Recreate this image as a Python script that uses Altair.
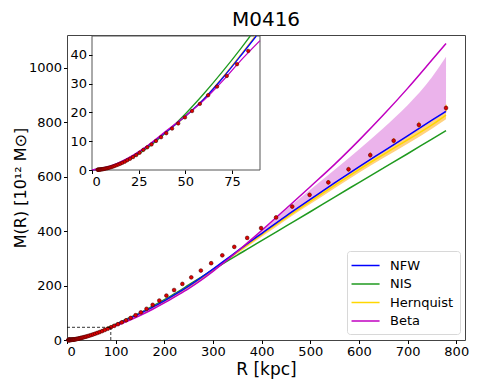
import altair as alt
import pandas as pd

# ---------------- data ----------------
R_pts = [3.0, 3.2, 3.4, 3.7, 4.0, 4.3, 4.6, 5.0, 5.4, 5.8, 6.2, 6.7, 7.2, 7.8, 8.4, 9.0, 9.7, 10.5, 11.3, 12.1,
         13.1, 14.1, 15.2, 16.3, 17.6, 18.9, 20.4, 22.0, 23.7, 25.5, 27.5, 29.6, 31.9, 34.3, 37.0, 39.8, 42.9, 46.2,
         49.8, 53.6, 57.8, 62.2, 67.0, 72.2, 77.7, 83.7, 90.2, 97.1, 104.6, 112.7, 121.4, 130.8, 140.9, 151.8,
         163.5, 176.1, 189.7, 204.3, 220.1, 237.1, 255.4, 275.1, 296.3, 319.2, 343.8, 370.3, 398.9, 429.7, 462.9,
         498.6, 537.1, 578.6, 623.3, 671.4, 723.2, 779.0]
M_pts = [0.09, 0.1, 0.11, 0.13, 0.15, 0.17, 0.2, 0.23, 0.27, 0.31, 0.36, 0.42, 0.49, 0.57, 0.66, 0.77, 0.9, 1.05,
         1.22, 1.42, 1.65, 1.9, 2.2, 2.5, 2.9, 3.4, 3.9, 4.5, 5.2, 6.0, 7.0, 7.9, 8.9, 10.1, 11.4, 12.8, 14.4, 16.2,
         18.3, 20.5, 23.0, 26.0, 29.0, 32.7, 36.8, 41.4, 46.5, 52, 58, 65, 72.5, 81, 91, 101.5, 114.5, 129, 145,
         163, 183.5, 206, 230, 255, 282, 311, 342, 375, 411, 450, 490, 533, 579, 627, 679, 732, 790, 852]
# error bars of the outer points (last 16 points)
err_outer = [4, 4, 5, 5, 6, 6, 7, 7, 8, 8, 9, 9, 10, 10, 11, 12]

R_mod = [0, 10, 20, 30, 40, 50, 60, 70, 80, 90, 100, 125, 150, 175, 200, 225, 250, 275, 300, 325, 350, 375, 400,
         450, 500, 550, 600, 650, 700, 750, 779]
M_nfw = [0, 1.3, 4.2, 8.4, 13.4, 18.7, 24.7, 32.0, 40.0, 48.2, 56.5, 76.5, 98, 120, 144, 170, 198, 228, 260, 293,
         326, 359, 391, 455, 516, 577, 636, 693, 750, 807, 840]
M_nis = [0, 0.9, 3.6, 7.8, 13.2, 19.5, 26.6, 34.3, 42.5, 50.5, 58.5, 79, 99, 123, 148, 174, 202, 230, 258, 285,
         312, 338, 365, 418, 471, 525, 578, 631, 684, 738, 769]
M_her = [0, 1.3, 4.2, 8.3, 13.3, 18.6, 24.8, 32.2, 40.3, 48.6, 56.5, 76.5, 97.5, 119.5, 143, 169, 197, 226, 258,
         291, 323, 355, 387, 449, 509, 568, 626, 681, 735, 790, 826]
M_beta = [0, 1.4, 4.4, 8.6, 13.7, 18.8, 24.3, 31.0, 38.3, 45.0, 52, 70, 90, 112, 136, 162, 189, 219, 252, 288,
          325, 363, 402, 482, 563, 645, 733, 826, 924, 1028, 1089]
beta_lo = [0, 1.3, 4.1, 8.2, 13.2, 18.5, 24.2, 30.8, 38, 44.8, 51.5, 69.5, 89.5, 111, 135, 161, 188, 218, 251, 286,
           320, 353, 386, 450, 513, 574, 633, 690, 746, 803, 836]
beta_hi = [0, 1.5, 4.5, 8.8, 13.9, 19.1, 25.0, 32.3, 40.5, 48.5, 56.5, 77, 98.5, 121, 145, 171, 199, 229, 262, 295,
           328, 362, 400, 478, 552, 625, 700, 778, 862, 965, 1040]
her_lo = [0, 1.2, 4.0, 8.0, 13.0, 18.2, 24.3, 31.5, 39.5, 47.6, 55.3, 75, 95.5, 117, 140, 165.5, 193, 222, 253,
          285, 317, 348, 379, 441, 499, 557, 614, 668, 721, 776, 811]
her_hi = [0, 1.4, 4.4, 8.6, 13.6, 19.0, 25.3, 32.9, 41.1, 49.6, 57.7, 78, 99.5, 122, 146, 172.5, 201, 230, 262,
          296, 329, 361, 394, 457, 518, 578, 637, 693, 748, 804, 840]

# inset curves (each ends where it leaves the inset frame)
nfw_in_R = [0, 10, 20, 30, 40, 50, 60, 70, 80, 88.0]
nfw_in_M = [0, 1.3, 4.2, 8.4, 13.4, 18.7, 24.7, 32.0, 40.0, 46.6]
nis_in_R = [0, 10, 20, 30, 40, 50, 60, 70, 80, 84.8]
nis_in_M = [0, 0.9, 3.6, 7.8, 13.2, 19.5, 26.6, 34.3, 42.5, 46.6]
her_in_R = [0, 10, 20, 30, 40, 50, 60, 70, 80, 87.5]
her_in_M = [0, 1.3, 4.2, 8.3, 13.3, 18.6, 24.8, 32.2, 40.3, 46.6]
beta_in_R = [0, 10, 20, 30, 40, 50, 60, 70, 80, 90]
beta_in_M = [0, 1.4, 4.4, 8.6, 13.7, 18.8, 24.3, 31.0, 38.3, 45.0]

models = ["NFW", "NIS", "Hernquist", "Beta"]
colors = ["#0000ff", "#1f9a1f", "#ffd700", "#c000c0"]
inset_x = [0, 90]
inset_y = [0, 46.6]

# ---------------- tables ----------------
pts = pd.DataFrame({"R": R_pts, "M": M_pts})
errs = pts.tail(len(err_outer)).copy()
errs["lo"] = errs["M"] - err_outer
errs["hi"] = errs["M"] + err_outer

order_draw = [("NIS", M_nis), ("Hernquist", M_her), ("NFW", M_nfw), ("Beta", M_beta)]
lines = pd.concat([pd.DataFrame({"R": R_mod, "M": v, "model": m, "k": i}) for i, (m, v) in enumerate(order_draw)])
bands = pd.DataFrame({"R": R_mod, "blo": beta_lo, "bhi": beta_hi, "hlo": her_lo, "hhi": her_hi})

in_draw = [("NIS", nis_in_R, nis_in_M), ("Hernquist", her_in_R, her_in_M), ("NFW", nfw_in_R, nfw_in_M),
           ("Beta", beta_in_R, beta_in_M)]
in_lines = pd.concat([pd.DataFrame({"R": r, "M": v, "model": m, "k": i}) for i, (m, r, v) in enumerate(in_draw)])
in_pts = pts[(pts.R <= inset_x[1]) & (pts.M <= inset_y[1])]

box = pd.DataFrame({"x0": [inset_x[0]], "x1": [inset_x[1]], "y0": [inset_y[0]], "y1": [inset_y[1]]})
dash = pd.DataFrame({"x0": [0, inset_x[1]], "x1": [inset_x[1], inset_x[1]],
                     "y0": [inset_y[1], 0], "y1": [inset_y[1], inset_y[1]]})

# ---------------- scales / axes ----------------
W, H = 398, 305
FONT = "DejaVu Sans"
ax_common = dict(labelFontSize=13, labelColor="black", tickColor="black", tickSize=3.5, grid=False,
                 domain=False, labelFont=FONT, titleFont=FONT, titleFontWeight="normal", titleColor="black",
                 format="d")
xs_main = alt.Scale(domain=[0, 818], nice=False, zero=False)
ys_main = alt.Scale(domain=[0, 1120], nice=False, zero=False)
xa_main = alt.Axis(values=list(range(0, 801, 100)), title="R [kpc]", titleFontSize=17, titlePadding=3,
                   labelPadding=2, **ax_common)
ya_main = alt.Axis(values=list(range(0, 1001, 200)), title="M(R) [10¹² M⊙]", titleFontSize=16,
                   titlePadding=0, labelPadding=2, **ax_common)

xs_in = alt.Scale(domain=inset_x, range=[25, 193], nice=False, zero=False)
ys_in = alt.Scale(domain=inset_y, range=[135, 1], nice=False, zero=False)
xa_in = alt.Axis(orient="bottom", offset=-170, values=[0, 25, 50, 75], title=None, zindex=1,
                 labelPadding=2, **ax_common)
ya_in = alt.Axis(orient="left", offset=-25, values=[0, 10, 20, 30, 40], title=None, zindex=1,
                 labelPadding=2, **ax_common)

color_scale = alt.Scale(domain=models, range=colors)
legend = alt.Legend(title=None, orient="none", legendX=280, legendY=216, symbolType="M-1.33,0H2.41",
                    symbolSize=225, symbolStrokeWidth=1.5, labelFontSize=13, labelFont=FONT, labelColor="black",
                    padding=6, rowPadding=2.5, labelOffset=20, strokeColor="#d8d8d8", fillColor="white",
                    cornerRadius=3)


def X(field, main=True):
    return alt.X(field, type="quantitative", scale=xs_main if main else xs_in, axis=xa_main if main else xa_in)


def Y(field, main=True):
    return alt.Y(field, type="quantitative", scale=ys_main if main else ys_in, axis=ya_main if main else ya_in)


# ---------------- main panel ----------------
beta_band = alt.Chart(bands).mark_area(color="#e08be0", opacity=0.65, interpolate="monotone").encode(
    x=X("R"), y=Y("blo"), y2="bhi")
her_band = alt.Chart(bands).mark_area(color="orange", opacity=0.5, interpolate="monotone").encode(
    x=X("R"), y=Y("hlo"), y2="hhi")
main_lines = alt.Chart(lines).mark_line(strokeWidth=1.5, interpolate="monotone").encode(
    x=X("R"), y=Y("M"), color=alt.Color("model:N", scale=color_scale, legend=legend),
    order=alt.Order("k:Q"), detail="k:Q")
err_rules = alt.Chart(errs).mark_rule(color="orange", strokeWidth=1.2).encode(x=X("R"), y=Y("lo"), y2="hi")
main_pts = alt.Chart(pts).mark_point(filled=True, size=14, fill="#e00000", stroke="#500000",
                                     strokeWidth=0.6, opacity=1).encode(x=X("R"), y=Y("M"))
dash_rules = alt.Chart(dash).mark_rule(color="black", strokeDash=[3, 2], strokeWidth=0.8).encode(
    x=X("x0"), x2="x1", y=Y("y0"), y2="y1")

main = alt.layer(beta_band, her_band, main_lines, err_rules, main_pts, dash_rules)

# ---------------- inset ----------------
in_box = alt.Chart(box).mark_rect(fill="white", stroke="#555555", strokeWidth=1).encode(
    x=X("x0", False), x2="x1", y=Y("y0", False), y2="y1")
in_lines_ch = alt.Chart(in_lines).mark_line(strokeWidth=1.3, interpolate="monotone").encode(
    x=X("R", False), y=Y("M", False), color=alt.Color("model:N", scale=color_scale, legend=None),
    order=alt.Order("k:Q"), detail="k:Q")
in_pts_ch = alt.Chart(in_pts).mark_point(filled=True, size=12, fill="#e00000", stroke="#500000",
                                         strokeWidth=0.6, opacity=1).encode(x=X("R", False), y=Y("M", False))
inset = alt.layer(in_box, in_lines_ch, in_pts_ch)

chart = alt.layer(main, inset).resolve_scale(x="independent", y="independent").properties(
    width=W, height=H,
    title=alt.Title("M0416", fontSize=20, font=FONT, fontWeight="normal", color="black", anchor="middle",
                    offset=3),
    autosize=alt.AutoSizeParams(type="none"),
    padding={"left": 59, "top": 27, "right": 7, "bottom": 41},
).configure(font=FONT).configure_view(stroke="#444444", strokeWidth=1)

chart.save("out.html", embed_options={"renderer": "svg", "actions": False})
